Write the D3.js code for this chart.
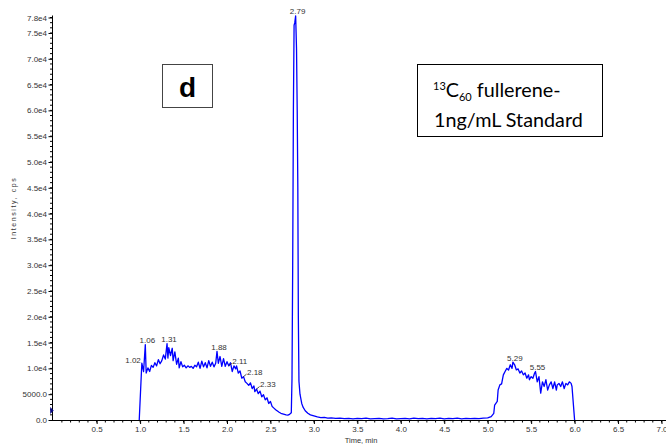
<!DOCTYPE html>
<html><head><meta charset="utf-8">
<script src="https://cdn.jsdelivr.net/npm/d3@7"></script>
<style>body{margin:0;background:#fff}svg{display:block}</style>
</head><body>
<svg id="c" width="666" height="446"></svg>
<script>
// ---- data ----
const times = [0.99,1.02,1.04,1.06,1.07,1.09,1.11,1.13,1.15,1.17,1.19,1.21,1.23,1.25,1.27,1.29,1.31,1.32,1.33,1.35,1.37,1.38,1.40,1.42,1.44,1.45,1.47,1.49,1.51,1.53,1.55,1.57,1.59,1.61,1.63,1.65,1.67,1.69,1.71,1.73,1.75,1.77,1.79,1.81,1.83,1.85,1.87,1.885,1.90,1.92,1.94,1.96,1.98,2.00,2.02,2.04,2.06,2.08,2.10,2.11,2.13,2.15,2.17,2.19,2.21,2.23,2.25,2.27,2.29,2.31,2.32,2.34,2.36,2.38,2.40,2.42,2.44,2.46,2.48,2.50,2.52,2.54,2.56,2.58,2.60,2.62,2.64,2.66,2.68,2.70,2.72,2.73,2.740,2.748,2.756,2.764,2.772,2.780,2.790,2.800,2.808,2.815,2.821,2.828,2.84,2.86,2.875,2.90,2.93,2.96,3.00,3.04,3.08,3.12,3.16,3.20,3.25,3.30,3.35,3.40,3.45,3.50,3.55,3.60,3.65,3.70,3.75,3.80,3.85,3.90,3.95,4.00,4.05,4.10,4.15,4.20,4.25,4.30,4.35,4.40,4.45,4.50,4.55,4.60,4.65,4.70,4.75,4.80,4.85,4.90,4.95,5.00,5.04,5.07,5.08,5.11,5.12,5.14,5.16,5.18,5.20,5.22,5.24,5.26,5.28,5.29,5.31,5.33,5.35,5.37,5.39,5.41,5.43,5.45,5.47,5.48,5.50,5.52,5.54,5.55,5.57,5.59,5.61,5.63,5.65,5.67,5.69,5.71,5.73,5.75,5.77,5.79,5.80,5.82,5.84,5.86,5.88,5.90,5.92,5.94,5.96,5.97,6.00];
const intensity = [0,11000,9400,14600,9100,10100,9400,10600,10200,11100,10500,11700,10900,11500,12600,11800,14800,12000,14000,12500,13900,11500,13200,10800,12000,10100,11300,10300,10600,10100,10500,10200,10400,10000,10600,10300,11200,10000,11400,10300,11100,10100,11500,10400,11200,10300,11000,13300,11000,12300,10400,11900,10400,11300,10500,11100,9400,10500,9900,10500,9100,9500,8100,8400,7400,7100,6700,7200,6100,6600,5500,6000,5100,5600,4500,4900,3900,4300,3200,3600,2600,2300,2000,1750,1500,1300,1200,1100,1000,950,1100,1250,1400,8000,30000,60000,76500,77000,78300,72000,60000,45000,20000,7500,5000,3200,2500,1800,1300,1000,800,600,450,500,350,400,300,350,250,300,200,300,250,350,200,250,300,200,250,350,200,250,300,200,350,250,300,200,300,250,350,200,300,250,350,200,300,250,300,250,350,400,650,1300,2900,3600,5800,6800,7000,8750,9400,10000,9700,10700,10000,11200,10700,9700,9900,9100,9500,8750,9100,8100,8750,7800,8400,8100,9100,9400,7400,8400,5200,7400,6500,7800,5800,6800,7400,6100,7400,5800,6800,7100,6500,7400,6100,7100,6800,7400,7100,6500,0];
const peakLabels = ["1.02","1.06","1.31","1.88","2.11","2.18","2.33","2.79","5.29","5.55"];
const peakAnchorTimes = [1.02,1.06,1.31,1.885,2.02,2.19,2.34,2.79,5.29,5.55];
const peakPlacement = ["left","above","above","above","leader","leader","leader","above","above","above"];
const xTickValues = [0.5,1.0,1.5,2.0,2.5,3.0,3.5,4.0,4.5,5.0,5.5,6.0,6.5,7.0];
const xTickLabels = ["0.5","1.0","1.5","2.0","2.5","3.0","3.5","4.0","4.5","5.0","5.5","6.0","6.5","7.0"];
const yTickValues = [0,5000,10000,15000,20000,25000,30000,35000,40000,45000,50000,55000,60000,65000,70000,75000,78000];
const yTickLabels = ["0.0","5000.0","1.0e4","1.5e4","2.0e4","2.5e4","3.0e4","3.5e4","4.0e4","4.5e4","5.0e4","5.5e4","6.0e4","6.5e4","7.0e4","7.5e4","7.8e4"];
const baselineMarker = 1850;
const xTitle = "Time, min";
const yTitle = "Intensity, cps";
const panelLetter = "d";

// ---- drawing ----
const svg = d3.select("#c");
const x = d3.scaleLinear().domain([0, 7.0]).range([53.2, 661.5]);
const y = d3.scaleLinear().domain([0, 78000]).range([420, 17.5]);
const axisCol = "#000", txtCol = "#333";
const font = "'Liberation Sans', Arial, sans-serif";

// minor ticks
const g = svg.append("g");
const xMinor = d3.range(1, 71).map(i => i / 10);
g.selectAll(".xm").data(xMinor).join("line")
  .attr("x1", d => x(d)).attr("x2", d => x(d)).attr("y1", 420).attr("y2", 422.5)
  .attr("stroke", axisCol).attr("stroke-width", 1);
const yMinor = d3.range(1, 79).map(i => i * 1000);
g.selectAll(".ym").data(yMinor).join("line")
  .attr("x1", 50).attr("x2", 52.5).attr("y1", d => y(d)).attr("y2", d => y(d))
  .attr("stroke", axisCol).attr("stroke-width", 1);

// axes
const xAxis = d3.axisBottom(x).tickValues(xTickValues)
  .tickFormat((d, i) => xTickLabels[i]).tickSize(4).tickSizeOuter(0).tickPadding(2);
const gx = svg.append("g").attr("transform", "translate(0,420)").call(xAxis);
gx.select(".domain").attr("d", `M52,0.5H666`).attr("stroke", axisCol);
gx.selectAll("text").attr("font-family", font).attr("font-size", 8).attr("fill", txtCol);

const yAxis = d3.axisLeft(y).tickValues(yTickValues)
  .tickFormat((d, i) => yTickLabels[i]).tickSize(4).tickSizeOuter(0).tickPadding(1.5);
const gy = svg.append("g").attr("transform", "translate(52.5,0)").call(yAxis);
gy.select(".domain").attr("d", `M0,${y(78000) - 2}V421`).attr("stroke", axisCol);
gy.selectAll("text").attr("font-family", font).attr("font-size", 8).attr("fill", txtCol);

// titles
svg.append("text").attr("x", 361).attr("y", 443).attr("text-anchor", "middle")
  .attr("font-family", font).attr("font-size", 7.5).attr("fill", txtCol).text(xTitle);
svg.append("text").attr("transform", "translate(16,208) rotate(-90)").attr("text-anchor", "middle")
  .attr("font-family", font).attr("font-size", 7).attr("letter-spacing", 1.6).attr("fill", txtCol).text(yTitle);

// trace
const pts = times.map((t, i) => [t, intensity[i]]);
const line = d3.line().x(d => x(d[0])).y(d => y(d[1]));
svg.append("path").attr("d", line(pts)).attr("fill", "none")
  .attr("stroke", "#0000ff").attr("stroke-width", 1.3).attr("stroke-linejoin", "round");

// baseline marker
svg.append("path")
  .attr("d", `M${x(0) - 3},${y(baselineMarker) - 3.5}L${x(0) + 0.5},${y(baselineMarker)}L${x(0) - 3},${y(baselineMarker) + 3.5}Z`)
  .attr("fill", "#0a0a80");

// peak labels
const nearest = t => { let bi = 0; times.forEach((tt, i) => { if (Math.abs(tt - t) < Math.abs(times[bi] - t)) bi = i; }); return bi; };
peakLabels.forEach((lab, k) => {
  const i = nearest(peakAnchorTimes[k]);
  const px = x(times[i]), py = y(intensity[i]);
  const t = svg.append("text").attr("font-family", font).attr("font-size", 8).attr("fill", txtCol).text(lab);
  if (peakPlacement[k] === "left") {
    t.attr("x", px - 1).attr("y", py).attr("text-anchor", "end");
  } else if (peakPlacement[k] === "leader") {
    svg.append("line").attr("x1", px).attr("y1", py).attr("x2", px + 3).attr("y2", py - 2.5)
      .attr("stroke", "#222").attr("stroke-width", 0.8);
    t.attr("x", px + 3.5).attr("y", py - 2).attr("text-anchor", "start");
  } else {
    t.attr("x", px + 2).attr("y", py - 1.5).attr("text-anchor", "middle");
  }
});

// panel letter box
svg.append("rect").attr("x", 162.5).attr("y", 64.5).attr("width", 50).attr("height", 43)
  .attr("fill", "#fff").attr("stroke", "#444").attr("stroke-width", 1);
svg.append("text").attr("x", 187.5).attr("y", 97).attr("text-anchor", "middle")
  .attr("font-family", font).attr("font-weight", "bold").attr("font-size", 28).attr("fill", "#000").text(panelLetter);

// annotation box
svg.append("rect").attr("x", 417.5).attr("y", 64.5).attr("width", 185).attr("height", 72)
  .attr("fill", "#fff").attr("stroke", "#000").attr("stroke-width", 1);
const bf = "Lato, 'Open Sans', sans-serif";
const t1 = svg.append("text").attr("x", 433).attr("y", 97).attr("font-family", bf).attr("font-size", 19).attr("fill", "#000");
t1.append("tspan").attr("font-size", 11).attr("dy", -7).text("13");
t1.append("tspan").attr("dy", 7).text("C");
t1.append("tspan").attr("font-size", 11).attr("dy", 4).text("60");
t1.append("tspan").attr("dy", -4).text(" fullerene-");
const t2 = svg.append("text").attr("x", 434).attr("y", 127).attr("font-family", bf).attr("font-size", 19).attr("fill", "#000").text("1ng/mL Standard");
const w = t2.node().getComputedTextLength();
const fs = 19 * 149 / w;
t2.attr("font-size", fs);
t1.attr("font-size", fs);
</script>
</body></html>
